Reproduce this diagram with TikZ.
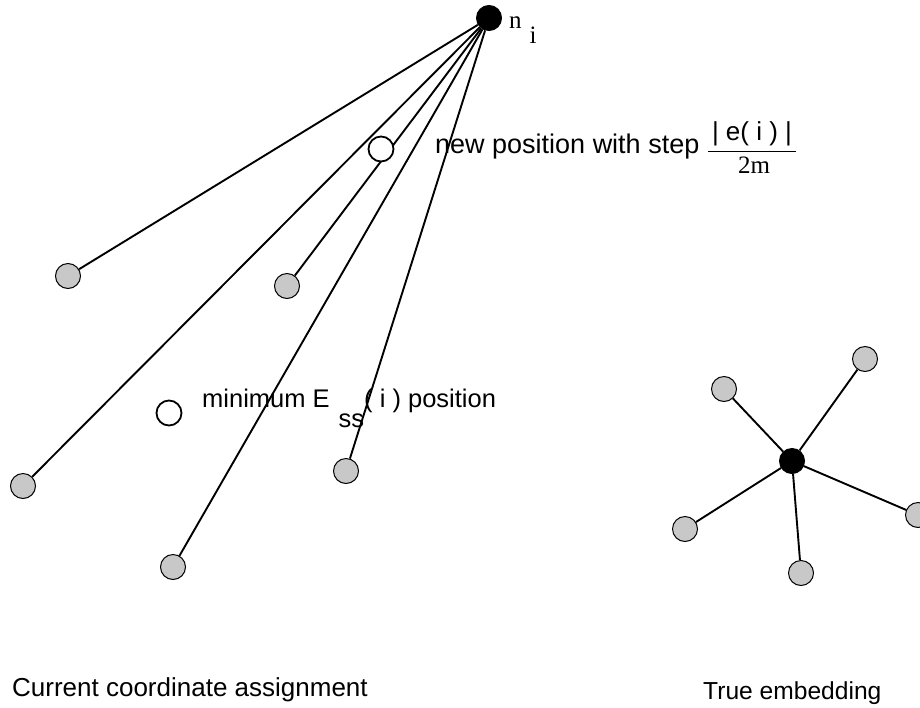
\documentclass[tikz,border=0pt]{standalone}
\usepackage{fontspec}
\setmainfont{Liberation Serif}
\setsansfont{Liberation Sans}
\usepackage{tikz}
\usetikzlibrary{positioning}
\definecolor{nodegray}{RGB}{200,200,200}

\begin{document}
\begin{tikzpicture}[
  x=1pt, y=-1pt,
  vtx/.style={circle, draw, line width=1pt, minimum size=25pt, inner sep=0pt},
  other/.style={vtx, fill=nodegray},
  self/.style={vtx, fill=black},
  cand/.style={vtx, fill=white, line width=1.8pt},
  lbl/.style={inner sep=0pt, anchor=base west, font=\sffamily\fontsize{26}{30}\selectfont},
  edge/.style={line width=1.9pt}
]
\useasboundingbox (0,0) rectangle (920,707);

% current coordinate assignment
\node[self]  (ni) at (489,18) {};
\node[other] (c1) at (68,276) {};
\node[other] (c2) at (287,286) {};
\node[other] (c3) at (23,486) {};
\node[other] (c4) at (173,567) {};
\node[other] (c5) at (346,471) {};

\foreach \c in {c1,c2,c3,c4,c5}
  \draw[edge] (ni) -- (\c);

\node[cand] (newpos) at (381,149) {};
\node[cand] (minpos) at (169,413) {};

\node[anchor=base west, inner sep=0pt, font=\rmfamily\fontsize{25}{28}\selectfont]
  (nilabel) at (509,28) {n\hspace{8pt}\raisebox{-15pt}{i}};

\node[lbl, font=\sffamily\fontsize{27}{30}\selectfont] (newlabel) at (435,153) {new position with step};
\node[lbl, anchor=base] (stepnum) at (752,140) {| e( i ) |};
\node[lbl, anchor=base, font=\rmfamily\fontsize{25}{28}\selectfont] (stepden) at (754,173) {2m};
\draw[line width=1pt] (708,151) -- (796,151);

\node[lbl, font=\sffamily\fontsize{25.5}{28}\selectfont] (minlabel) at (202,407)
  {minimum E\hspace{9pt}\raisebox{-20pt}{ss}( i ) position};

% true embedding
\node[self]  (hub) at (792,461) {};
\node[other] (t1) at (724,389) {};
\node[other] (t2) at (865,359) {};
\node[other] (t3) at (685,529) {};
\node[other] (t4) at (801,573) {};
\node[other] (t5) at (918,515) {};

\foreach \t in {t1,t2,t3,t4,t5}
  \draw[edge] (hub) -- (\t);

\node[lbl] (curlabel) at (12,696) {Current coordinate assignment};
\node[lbl, font=\sffamily\fontsize{24.6}{28}\selectfont] (truelabel) at (703,699) {True embedding};
\end{tikzpicture}
\end{document}
